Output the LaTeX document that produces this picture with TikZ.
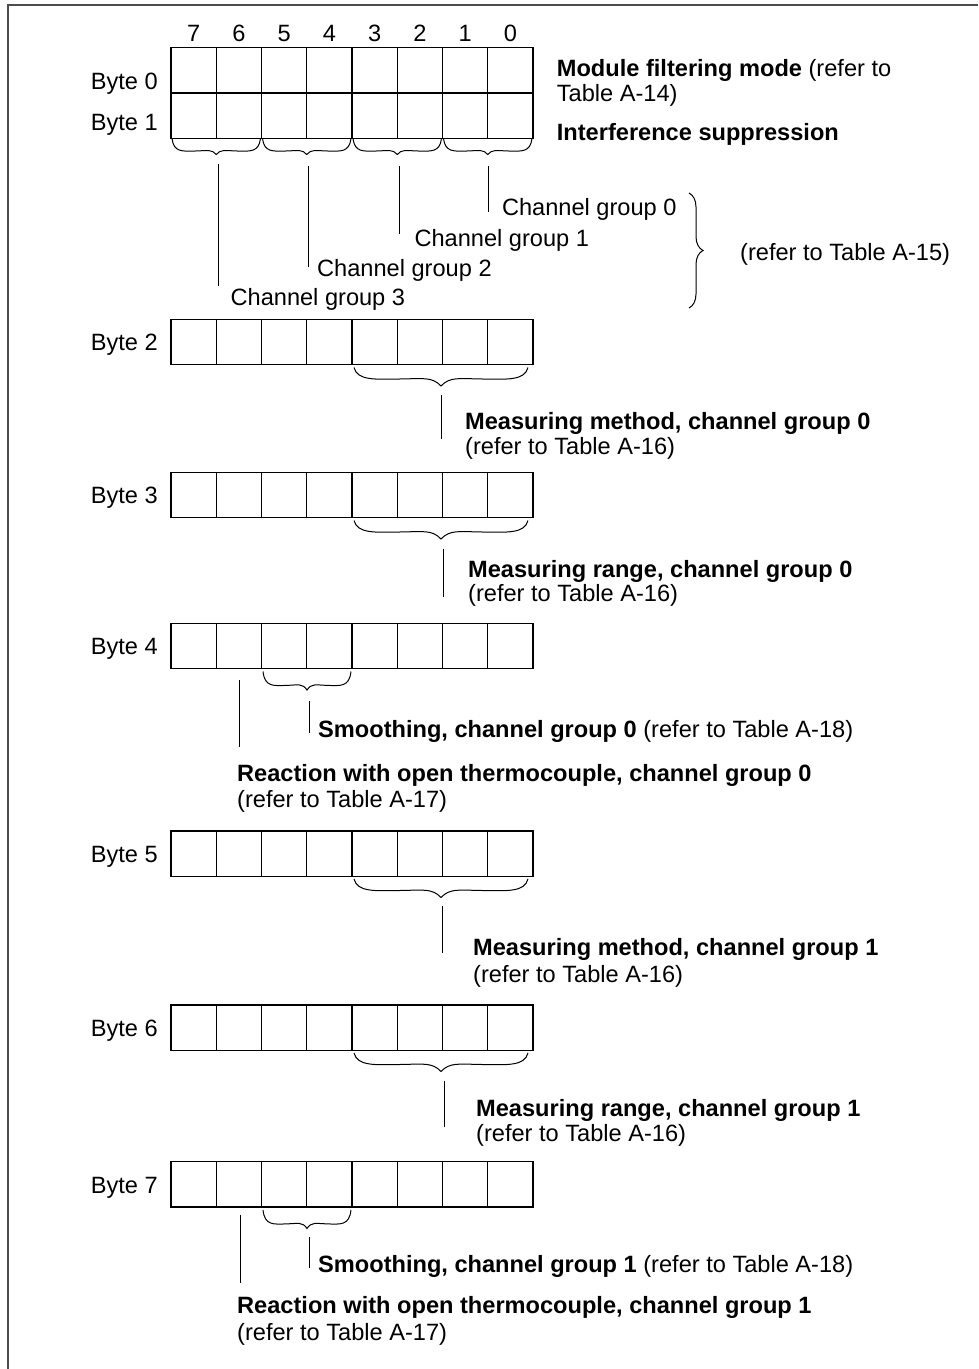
\documentclass[tikz,border=0pt]{standalone}
\usepackage{fontspec}
\setmainfont{Liberation Sans}
\usetikzlibrary{decorations.pathreplacing}
% wavy curly brace, tip downward: x0, x1, y, depth, side depth ratio
\newcommand{\wavebrace}[5]{%
  \draw[brline] (#1,#3)
    .. controls ({#1+0.02*(#2-#1)},{#3+(#5+0.1)*#4}) and ({#1+0.12*(#2-#1)},{#3+(#5+0.02)*#4}) .. ({#1+0.27*(#2-#1)},{#3+#5*#4})
    .. controls ({#1+0.40*(#2-#1)},{#3+(#5-0.02)*#4}) and ({#1+0.45*(#2-#1)},{#3+(#5-0.12)*#4}) .. ({(#1+#2)/2},{#3+#4})
    .. controls ({#1+0.55*(#2-#1)},{#3+(#5-0.12)*#4}) and ({#1+0.60*(#2-#1)},{#3+(#5-0.02)*#4}) .. ({#1+0.73*(#2-#1)},{#3+#5*#4})
    .. controls ({#1+0.88*(#2-#1)},{#3+(#5+0.02)*#4}) and ({#1+0.98*(#2-#1)},{#3+(#5+0.1)*#4}) .. (#2,#3);}
\begin{document}
\begin{tikzpicture}[x=1pt,y=-1pt,
  cell/.style={draw, line width=1.4pt, minimum width=45.25pt, minimum height=45.4pt, inner sep=0pt, outer sep=0pt},
  txt/.style={inner sep=0pt, anchor=base west, font=\fontsize{23.6}{28}\selectfont},
  lbl/.style={inner sep=0pt, anchor=base east, font=\fontsize{23.6}{28}\selectfont},
  bitnum/.style={inner sep=0pt, anchor=base, font=\fontsize{23.6}{28}\selectfont},
  brc/.style={decorate, decoration={brace, amplitude=#1}, line width=1pt},
  brline/.style={line width=1pt},
  leader/.style={line width=1pt},
  frame/.style={line width=2pt, draw=black!70}]
\useasboundingbox (0,0) rectangle (978,1369);
\draw[frame] (8,1369) -- (8,5) -- (978,5);
% cells
\foreach \r/\top in {0/47.7,1/93.1,2/319.3,3/472.3,4/623.3,5/831,6/1005,7/1161.7}{
  \foreach \k in {0,...,7}{
    \node[cell] (r\r c\k) at ({171+45.25*(\k+0.5)}, {\top+22.7}) {};
  }
}
% bit numbers
\foreach \k in {0,...,7}{
  \pgfmathtruncatemacro{\b}{7-\k}
  \node[bitnum] (bit\b) at ({171+45.25*(\k+0.5)}, 41.5) {\b};
}
% byte labels
\foreach \r/\base in {0/89.5,1/130.5,2/350.5,3/503.5,4/654.5,5/862,6/1036,7/1193}{
  \node[lbl] (lab\r) at (158,\base) {Byte \r};
}
% right side texts of byte 0/1
\node[txt] (mfm) at (556.7,76.5) {\textbf{Module filtering mode} (refer to};
\node[txt] (mfm2) at (556.7,101.5) {Table A-14)};
\node[txt] (isup) at (556.7,140) {\textbf{Interference suppression}};
% braces under byte 1
\wavebrace{172}{260.5}{138.5}{16}{0.78}
\wavebrace{262.5}{351}{138.5}{16}{0.78}
\wavebrace{353}{441.5}{138.5}{16}{0.78}
\wavebrace{443.5}{532}{138.5}{16}{0.78}
% channel group labels
\node[txt] (cg0) at (501.8,215.5) {Channel group 0};
\node[txt] (cg1) at (414.3,246.8) {Channel group 1};
\node[txt] (cg2) at (317,276) {Channel group 2};
\node[txt] (cg3) at (230.4,305) {Channel group 3};
\coordinate (g0a) at (488,166); \coordinate (g0b) at (488,212);
\coordinate (g1a) at (399,166); \coordinate (g1b) at (399,234);
\coordinate (g2a) at (308,166); \coordinate (g2b) at (308,267);
\coordinate (g3a) at (218,164); \coordinate (g3b) at (218,286);
\draw[leader] (g0a) -- (g0b);
\draw[leader] (g1a) -- (g1b);
\draw[leader] (g2a) -- (g2b);
\draw[leader] (g3a) -- (g3b);
\coordinate (rb1) at (689,193); \coordinate (rb2) at (689,308);
\draw[brc=14] (rb1) -- (rb2);
\node[txt] (t15) at (740,260.5) {(refer to Table A-15)};
% byte 2, 3, 5, 6 braces (bits 3..0)
\wavebrace{354}{528}{367.5}{18.5}{0.62}
\wavebrace{354}{528}{520.5}{18.5}{0.62}
\wavebrace{354}{528}{879}{18.5}{0.62}
\wavebrace{354}{528}{1053}{18.5}{0.62}
% byte 4, 7 braces (bits 5..4)
\wavebrace{263}{351}{671.5}{18.5}{0.75}
\wavebrace{263}{351}{1210}{18.5}{0.75}
% byte 2
\coordinate (m2a) at (441.5,395); \coordinate (m2b) at (441.5,439);
\draw[leader] (m2a) -- (m2b);
\node[txt] (mm0) at (465,429.5) {\textbf{Measuring method, channel group 0}};
\node[txt] (mm0r) at (465,454) {(refer to Table A-16)};
% byte 3
\coordinate (m3a) at (443,549); \coordinate (m3b) at (443,597);
\draw[leader] (m3a) -- (m3b);
\node[txt] (mr0) at (468,577) {\textbf{Measuring range, channel group 0}};
\node[txt] (mr0r) at (468,601.5) {(refer to Table A-16)};
% byte 4
\coordinate (s4a) at (309,701); \coordinate (s4b) at (309,733);
\coordinate (o4a) at (239.5,680); \coordinate (o4b) at (239.5,747);
\draw[leader] (s4a) -- (s4b);
\draw[leader] (o4a) -- (o4b);
\node[txt] (sm0) at (318,737) {\textbf{Smoothing, channel group 0} (refer to Table A-18)};
\node[txt] (rt0) at (237,781.5) {\textbf{Reaction with open thermocouple, channel group 0}};
\node[txt] (rt0r) at (237,807.5) {(refer to Table A-17)};
% byte 5
\coordinate (m5a) at (442,906); \coordinate (m5b) at (442,953);
\draw[leader] (m5a) -- (m5b);
\node[txt] (mm1) at (473,955.5) {\textbf{Measuring method, channel group 1}};
\node[txt] (mm1r) at (473,982) {(refer to Table A-16)};
% byte 6
\coordinate (m6a) at (444,1081); \coordinate (m6b) at (444,1127);
\draw[leader] (m6a) -- (m6b);
\node[txt] (mr1) at (476,1116) {\textbf{Measuring range, channel group 1}};
\node[txt] (mr1r) at (476,1141.5) {(refer to Table A-16)};
% byte 7
\coordinate (s7a) at (309.5,1237); \coordinate (s7b) at (309.5,1268);
\coordinate (o7a) at (240,1215); \coordinate (o7b) at (240,1283);
\draw[leader] (s7a) -- (s7b);
\draw[leader] (o7a) -- (o7b);
\node[txt] (sm1) at (318,1272.5) {\textbf{Smoothing, channel group 1} (refer to Table A-18)};
\node[txt] (rt1) at (237,1313.5) {\textbf{Reaction with open thermocouple, channel group 1}};
\node[txt] (rt1r) at (237,1340) {(refer to Table A-17)};
\end{tikzpicture}
\end{document}
